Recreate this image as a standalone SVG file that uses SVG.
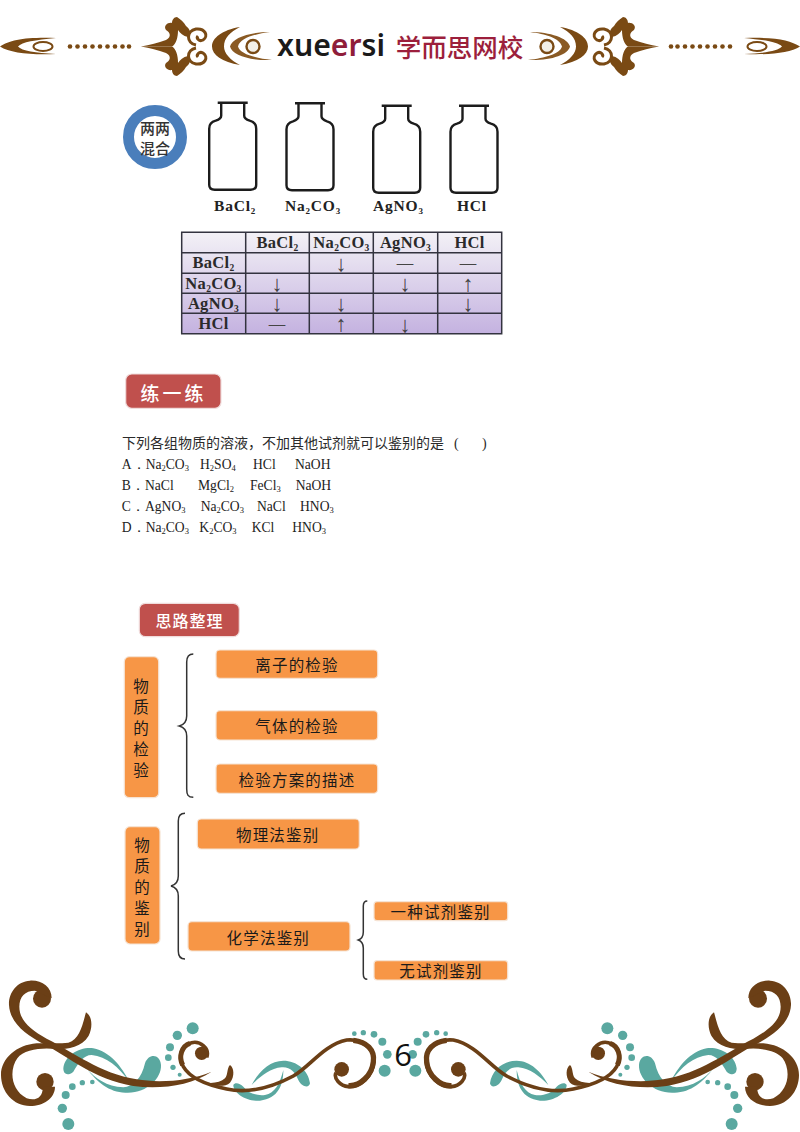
<svg xmlns="http://www.w3.org/2000/svg" width="800" height="1132" viewBox="0 0 800 1132">
<style>
.cjk{font-family:"Noto Sans CJK SC","Noto Sans",sans-serif;dominant-baseline:central;text-anchor:middle}
.o{fill:#f79646;stroke:#f6e3d3;stroke-width:1.2}
.s{fill:#c0504d;stroke:#f0dcdc;stroke-width:1.2}
.ot{font-size:15.5px;letter-spacing:1.2px;fill:#1a1a1a}
.wt{fill:#fff;font-weight:500}
.ser{font-family:"Liberation Serif","Noto Serif",serif}
.opt{font-size:13.6px;fill:#222}
.lab{font-size:15.5px;font-weight:700;fill:#222;letter-spacing:.8px}
.cell{font-size:16.5px;font-weight:700;fill:#2a2a2a;text-anchor:middle;letter-spacing:.3px}
.mk{font-size:16.5px;fill:#444;text-anchor:middle}
.ar{font-size:22px;fill:#444;text-anchor:middle}
.br{fill:none;stroke:#333;stroke-width:1.5}
.bot{fill:none;stroke:#1c1c1c;stroke-width:2.4}
.b{fill:#6b3f16}
.t{fill:#5aa8a0}
.hb{fill:#7a4a14}
.hs{fill:none;stroke:#7a4a14;stroke-width:3}
</style>
<defs>
<linearGradient id="tg" x1="0" y1="0" x2="0" y2="1"><stop offset="0" stop-color="#f3f1f6"/><stop offset="1" stop-color="#c4b2e0"/></linearGradient>
<path id="bottle" class="bot" d="M-15,0H15M-11.5,0V13C-11.5,16-14,17-17,18C-21,19-23.500,22-23.500,26V82Q-23.500,87-18,87H18Q23.500,87 23.500,82V26C23.500,22 21,19 17,18C14,17 11.500,16 11.500,13V0"/>
<g id="hu"><path class="hb" d="M141,46.500C150,45 158,43 166,40C172,37 170,32 166,30C163,26 168,22 172,23C172,20 174,17 177,17C180,19 184,22 186,26C190,29 192,34 188,37C183,36 180,33 178,30C178,38 176,44 172,46.500Z"/><path class="hs" d="M196,45C186,43 186,31 196,29C205,28 209,36 203,40C199,42 196,38 198,36"/></g>
<g id="hl">
<path class="hb" d="M0,46.500C10,40 25,37 56,38C35,40 22,42 18,46.500C22,51 35,53 56,54C30,55 10,53 0,46.500Z"/>
<ellipse cx="43" cy="46.500" rx="9.500" ry="4.500" fill="none" stroke="#7a4a14" stroke-width="2"/>
<g class="hb"><circle cx="70" cy="46.500" r="2.300"/><circle cx="77.500" cy="46.500" r="2.300"/><circle cx="85" cy="46.500" r="2.300"/><circle cx="92.500" cy="46.500" r="2.300"/><circle cx="100" cy="46.500" r="2.300"/><circle cx="107.500" cy="46.500" r="2.300"/><circle cx="115" cy="46.500" r="2.300"/><circle cx="122.500" cy="46.500" r="2.300"/><circle cx="129" cy="46.500" r="2.300"/></g>
<use href="#hu"/><use href="#hu" transform="matrix(1 0 0 -1 0 93)"/>
<path class="hb" d="M240,27C222,30 212,38 212,46.500C212,55 222,62 240,65C230,60 224,53 224,46.500C224,38 230,32 240,27Z"/>
<path d="M270,32C250,32 232,38 230,46.500C232,55 250,61 272,60C255,58 240,54 238,46.500C240,38 255,34 270,32Z" fill="#8a5a24"/>
<circle cx="253" cy="46.500" r="6.500" fill="#f3efe6" stroke="#7a4a14" stroke-width="2.400"/>
</g>
<g id="orn" transform="translate(0 970) scale(.33333)">
<path class="t" d="M190,295C195,255 240,230 280,235C330,245 365,290 388,335C355,290 320,260 275,255C250,255 235,280 220,305C205,318 190,315 190,295Z"/>
<path class="t" d="M262,298C285,325 320,350 370,352C400,350 425,325 435,280C445,250 480,250 483,285C485,325 440,370 380,368C330,370 290,335 262,298Z"/>
<path class="t" d="M700,345C705,335 720,340 730,350C745,370 770,378 795,375C825,370 840,340 850,300C850,345 835,385 780,392C740,395 700,370 700,345Z"/>
<path class="t" d="M755,345C775,305 810,272 850,272C890,272 925,300 930,340C928,355 905,352 895,330C885,305 870,290 845,292C810,295 780,320 755,345Z"/>
<g class="t"><circle cx="578" cy="175" r="18"/><circle cx="532" cy="196" r="14"/><circle cx="510" cy="232" r="12"/><circle cx="505" cy="263" r="10"/><circle cx="519" cy="292" r="8"/><circle cx="539" cy="314" r="6"/><circle cx="205" cy="462" r="18"/><circle cx="187" cy="415" r="14"/><circle cx="197" cy="375" r="12"/><circle cx="217" cy="350" r="10"/><circle cx="247" cy="338" r="8"/><circle cx="277" cy="336" r="7"/><circle cx="1154" cy="302" r="18"/><circle cx="1162" cy="253" r="13"/><circle cx="1147" cy="215" r="12"/><circle cx="1122" cy="193" r="10"/><circle cx="1090" cy="188" r="8"/><circle cx="1063" cy="191" r="7"/></g>
<circle class="b" cx="126" cy="86" r="27"/>
<path class="b" d="M155,85C155,50 125,30 90,32C50,34 25,70 27,105C30,160 80,195 130,222C210,262 280,328 400,348C480,358 570,348 635,305C570,332 480,340 410,328C300,310 220,246 140,206C90,178 58,150 58,110C58,80 75,62 105,62Z"/>
<circle class="b" cx="135" cy="335" r="26"/>
<path class="b" d="M165,350C165,385 130,408 90,408C40,408 3,365 3,315C3,265 50,225 110,220C140,218 170,222 205,218C238,208 246,170 258,127C278,140 278,172 266,197C245,232 205,237 170,238C130,232 72,238 52,265C27,300 32,360 80,385C110,395 130,380 128,350Z"/>
<circle class="b" cx="605" cy="250" r="20"/>
<path fill="none" stroke="#6b3f16" stroke-width="11" d="M620,262C630,235 600,212 575,218C545,225 532,260 550,290C570,325 620,345 680,357C750,372 820,350 880,318C930,290 970,225 1040,210C1090,205 1125,240 1122,275C1118,320 1080,352 1045,350C1020,348 1000,325 1008,308"/>
<path fill="none" stroke="#6b3f16" stroke-width="16" d="M1060,211C1100,215 1125,240 1120,275C1116,315 1080,350 1045,347"/>
<path fill="none" stroke="#6b3f16" stroke-width="15" d="M570,220C545,228 535,260 548,285"/>
<circle class="b" cx="1025" cy="298" r="22"/>
<path class="b" d="M690,285C702,292 705,320 690,338C675,352 640,350 600,335C630,342 660,340 675,325C685,312 680,295 690,285Z"/>
</g>
</defs>

<g id="header">
<use href="#hl"/><use href="#hl" transform="matrix(-1 0 0 1 800 0)"/>
<text x="277" y="56" font-family="'Noto Sans','Liberation Sans',sans-serif" font-weight="600" font-size="31" textLength="108" lengthAdjust="spacingAndGlyphs" fill="#1a1a1a">xue<tspan fill="#8f1d3a">er</tspan>si</text>
<text x="459.500" y="45.500" class="cjk" font-size="25.500" font-weight="500" fill="#9c1f3c">学而思网校</text>
</g>

<g id="mix-badge">
<circle cx="155" cy="137" r="26.500" fill="#fff" stroke="#4a7ebb" stroke-width="11"/>
<text x="155" y="127.500" class="cjk" font-size="15" fill="#333" font-weight="500">两两</text>
<text x="155" y="147" class="cjk" font-size="15" fill="#333" font-weight="500">混合</text>
</g>

<g id="bottles">
<g id="bottle-bacl2"><use href="#bottle" x="232.700" y="102.700"/><text x="214" y="211" class="ser lab">BaCl<tspan font-size="9" dy="3">2</tspan></text></g>
<g id="bottle-na2co3"><use href="#bottle" x="310" y="103.300"/><text x="285" y="211" class="ser lab">Na<tspan font-size="9" dy="3">2</tspan><tspan dy="-3">CO</tspan><tspan font-size="9" dy="3">3</tspan></text></g>
<g id="bottle-agno3"><use href="#bottle" x="396.700" y="105.700"/><text x="373" y="211" class="ser lab">AgNO<tspan font-size="9" dy="3">3</tspan></text></g>
<g id="bottle-hcl"><use href="#bottle" x="474" y="105.700"/><text x="457" y="211" class="ser lab">HCl</text></g>
</g>

<g id="reaction-table">
<rect x="181.700" y="232.300" width="320" height="101.400" fill="url(#tg)"/>
<path fill="none" stroke="#33333f" stroke-width="1.500" d="M181.700,232.300H501.700V333.700H181.700ZM181.700,252.700H501.700M181.700,273.300H501.700M181.700,293.300H501.700M181.700,313.300H501.700M245.700,232.300V333.700M309.300,232.300V333.700M373.300,232.300V333.700M437.700,232.300V333.700"/>
<g class="ser">
<text x="277.500" y="248" class="cell">BaCl<tspan font-size="9.500" dy="3">2</tspan></text>
<text x="341.500" y="248" class="cell">Na<tspan font-size="9.500" dy="3">2</tspan><tspan dy="-3">CO</tspan><tspan font-size="9.500" dy="3">3</tspan></text>
<text x="405.500" y="248" class="cell">AgNO<tspan font-size="9.500" dy="3">3</tspan></text>
<text x="469.500" y="248" class="cell">HCl</text>
<text x="213.500" y="268" class="cell">BaCl<tspan font-size="9.500" dy="3">2</tspan></text>
<text x="213.500" y="289" class="cell">Na<tspan font-size="9.500" dy="3">2</tspan><tspan dy="-3">CO</tspan><tspan font-size="9.500" dy="3">3</tspan></text>
<text x="213.500" y="309" class="cell">AgNO<tspan font-size="9.500" dy="3">3</tspan></text>
<text x="213.500" y="329" class="cell">HCl</text>
<text x="341" y="271" class="ar">↓</text><text x="405" y="268" class="mk">—</text><text x="468" y="268" class="mk">—</text>
<text x="277" y="291" class="ar">↓</text><text x="405" y="291" class="ar">↓</text><text x="468" y="291" class="ar">↑</text>
<text x="277" y="311" class="ar">↓</text><text x="341" y="311" class="ar">↓</text><text x="468" y="311" class="ar">↓</text>
<text x="277" y="329" class="mk">—</text><text x="341" y="331" class="ar">↑</text><text x="405" y="332" class="ar">↓</text>
</g>
</g>

<g id="practice-title">
<rect class="s" x="125.700" y="374" width="95.300" height="34.300" rx="6"/>
<text x="173.500" y="392" class="cjk wt" font-size="19" letter-spacing="3">练一练</text>
</g>

<g id="question">
<text x="122" y="448" font-family="'Noto Sans CJK SC',sans-serif" font-size="14" fill="#2a2a2a">下列各组物质的溶液，不加其他试剂就可以鉴别的是<tspan x="454" class="ser">(</tspan><tspan x="482" class="ser">)</tspan></text>
<g class="ser opt">
<text y="469"><tspan x="121.700">A．</tspan><tspan x="145.700">Na</tspan><tspan font-size="8.500" dy="2">2</tspan><tspan dy="-2">CO</tspan><tspan font-size="8.500" dy="2">3</tspan><tspan x="200" dy="-2">H</tspan><tspan font-size="8.500" dy="2">2</tspan><tspan dy="-2">SO</tspan><tspan font-size="8.500" dy="2">4</tspan><tspan x="253" dy="-2">HCl</tspan><tspan x="295">NaOH</tspan></text>
<text y="490"><tspan x="121.700">B．</tspan><tspan x="145">NaCl</tspan><tspan x="198">MgCl</tspan><tspan font-size="8.500" dy="2">2</tspan><tspan x="250" dy="-2">FeCl</tspan><tspan font-size="8.500" dy="2">3</tspan><tspan x="295.700" dy="-2">NaOH</tspan></text>
<text y="511"><tspan x="121.700">C．</tspan><tspan x="145">AgNO</tspan><tspan font-size="8.500" dy="2">3</tspan><tspan x="200.700" dy="-2">Na</tspan><tspan font-size="8.500" dy="2">2</tspan><tspan dy="-2">CO</tspan><tspan font-size="8.500" dy="2">3</tspan><tspan x="257" dy="-2">NaCl</tspan><tspan x="300">HNO</tspan><tspan font-size="8.500" dy="2">3</tspan></text>
<text y="532"><tspan x="121.700">D．</tspan><tspan x="145.700">Na</tspan><tspan font-size="8.500" dy="2">2</tspan><tspan dy="-2">CO</tspan><tspan font-size="8.500" dy="2">3</tspan><tspan x="199.300" dy="-2">K</tspan><tspan font-size="8.500" dy="2">2</tspan><tspan dy="-2">CO</tspan><tspan font-size="8.500" dy="2">3</tspan><tspan x="251.700" dy="-2">KCl</tspan><tspan x="292.300">HNO</tspan><tspan font-size="8.500" dy="2">3</tspan></text>
</g>
</g>

<g id="summary-title">
<rect class="s" x="139.300" y="603.300" width="100" height="33.400" rx="6"/>
<text x="189.500" y="620" class="cjk wt" font-size="16" letter-spacing="1">思路整理</text>
</g>

<g id="connectors">
<path class="br" d="M193.300,654C188,654 186.700,657 186.700,662V716C186.700,722 183,725 179.300,726C183,727 186.700,730 186.700,736V789C186.700,795 188,797.300 193.300,797.300"/>
<path class="br" d="M185,813.300C180,813.300 178.300,816 178.300,821V876C178.300,882 175,885 171,886C175,887 178.300,890 178.300,896V951C178.300,956 180,959 185,959"/>
<path class="br" d="M367.300,901C364.500,901 363.300,903 363.300,906V932C363.300,936 361,939 358.300,940C361,941 363.300,944 363.300,948V974C363.300,977 364.500,979.300 367.300,979.300"/>
</g>

<g id="node-detect"><rect class="o" x="124.300" y="656.700" width="34.400" height="141" rx="5"/>
<text x="141.500" y="685" class="cjk ot">物</text><text x="141.500" y="706" class="cjk ot">质</text><text x="141.500" y="727" class="cjk ot">的</text><text x="141.500" y="748" class="cjk ot">检</text><text x="141.500" y="769" class="cjk ot">验</text></g>
<g id="node-ion"><rect class="o" x="216" y="650" width="161.700" height="28.300" rx="4"/><text x="297" y="664" class="cjk ot">离子的检验</text></g>
<g id="node-gas"><rect class="o" x="216" y="710.700" width="161.700" height="29.300" rx="4"/><text x="297" y="725" class="cjk ot">气体的检验</text></g>
<g id="node-plan"><rect class="o" x="216" y="764" width="161.700" height="29.300" rx="4"/><text x="297" y="778.500" class="cjk ot">检验方案的描述</text></g>
<g id="node-identify"><rect class="o" x="125" y="826.700" width="35" height="117.300" rx="5"/>
<text x="142.700" y="843.500" class="cjk ot">物</text><text x="142.700" y="864.500" class="cjk ot">质</text><text x="142.700" y="885.500" class="cjk ot">的</text><text x="142.700" y="906.500" class="cjk ot">鉴</text><text x="142.700" y="927.500" class="cjk ot">别</text></g>
<g id="node-physical"><rect class="o" x="197.300" y="819" width="162" height="30" rx="4"/><text x="277.700" y="834" class="cjk ot">物理法鉴别</text></g>
<g id="node-chemical"><rect class="o" x="188" y="921.700" width="162" height="29.300" rx="4"/><text x="268.300" y="936.500" class="cjk ot">化学法鉴别</text></g>
<g id="node-one"><rect class="o" x="374" y="901.700" width="133.700" height="19" rx="3"/><text x="440.700" y="911" class="cjk ot">一种试剂鉴别</text></g>
<g id="node-none"><rect class="o" x="374" y="960.700" width="133.700" height="19.300" rx="3"/><text x="441" y="970" class="cjk ot">无试剂鉴别</text></g>

<g id="footer">
<use href="#orn"/><use href="#orn" transform="matrix(-1 0 0 1 800 0)"/>
<text x="403" y="1066" font-family="'Open Sans',sans-serif" font-size="31" text-anchor="middle" fill="#111">6</text>
</g>
</svg>
